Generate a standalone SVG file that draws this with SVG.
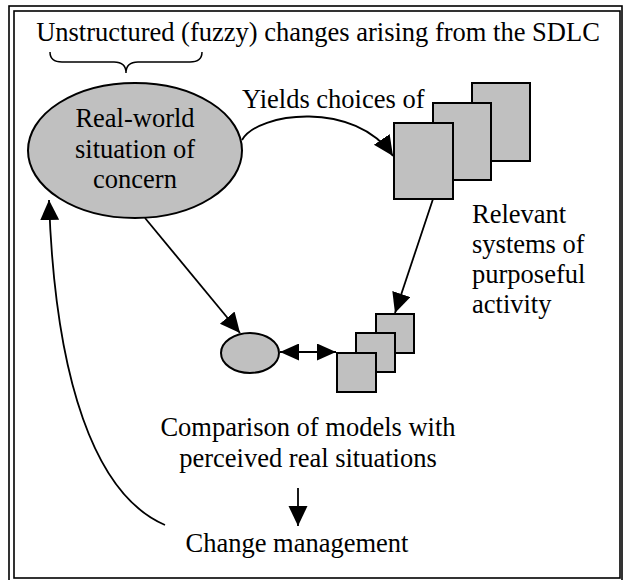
<svg xmlns="http://www.w3.org/2000/svg" width="624" height="580" viewBox="0 0 624 580">
<style>
text{font-family:"Liberation Serif","Times New Roman",serif;font-size:26.5px;fill:#000}
.c{text-anchor:middle}
.sh{fill:#c0c0c0;stroke:#000;stroke-width:2}
.ln{fill:none;stroke:#000;stroke-width:1.8}
.fr{fill:none;stroke:#000;stroke-width:1.6}
</style>
<defs>
<marker id="ah" markerUnits="userSpaceOnUse" markerWidth="22" markerHeight="20" refX="20" refY="9.5" orient="auto"><path d="M0,0 L20,9.5 L0,19 z" fill="#000"/></marker>
<marker id="as" markerUnits="userSpaceOnUse" markerWidth="20" markerHeight="18" refX="19" refY="8.5" orient="auto"><path d="M0,0 L19,8.5 L0,17 z" fill="#000"/></marker>
<marker id="asr" markerUnits="userSpaceOnUse" markerWidth="20" markerHeight="18" refX="0" refY="8.5" orient="auto"><path d="M19,0 L0,8.5 L19,17 z" fill="#000"/></marker>
</defs>
<rect width="624" height="580" fill="#fff"/>
<g id="frame">
<rect class="fr" x="9" y="6" width="613" height="580"/>
<rect class="fr" x="14" y="11" width="606" height="567"/>
</g>
<g id="title">
<text x="318" y="41" class="c">Unstructured (fuzzy) changes arising from the SDLC</text>
<path class="ln" style="stroke-width:1.5" d="M50,52 Q50,62 62,62 L114,62 Q126,62 126,73 Q126,62 138,62 L190,62 Q202,62 202,52"/>
</g>
<g id="connectors">
<path class="ln" d="M242,140 C258,112 355,100 393,156" marker-end="url(#ah)"/>
<path class="ln" d="M145,218 L240,333" marker-end="url(#ah)"/>
<path class="ln" d="M433,199 L395,313" marker-end="url(#ah)"/>
<path class="ln" d="M280,352 L336,352" marker-start="url(#asr)" marker-end="url(#as)"/>
<path class="ln" d="M298,488 L298,526" marker-end="url(#ah)"/>
<path class="ln" d="M165,525 C95,495 55,380 49,200" marker-end="url(#ah)"/>
</g>
<g id="real-world">
<ellipse class="sh" cx="135" cy="150.5" rx="107" ry="67.5"/>
<text x="135" y="127" class="c">Real-world</text>
<text x="135" y="158" class="c">situation of</text>
<text x="135" y="188" class="c">concern</text>
</g>
<g id="yields-label">
<text x="242" y="108">Yields choices of</text>
</g>
<g id="relevant-systems">
<rect class="sh" x="472" y="83" width="58" height="78"/>
<rect class="sh" x="433" y="103" width="58" height="77"/>
<rect class="sh" x="394" y="123" width="59" height="76"/>
<text x="472" y="223">Relevant</text>
<text x="472" y="253">systems of</text>
<text x="472" y="283">purposeful</text>
<text x="472" y="313">activity</text>
</g>
<g id="model-ellipse">
<ellipse class="sh" cx="250" cy="353" rx="29" ry="20"/>
</g>
<g id="models">
<rect class="sh" x="376" y="314" width="38" height="39"/>
<rect class="sh" x="356" y="333" width="39" height="39"/>
<rect class="sh" x="337" y="353" width="39" height="39"/>
</g>
<g id="comparison">
<text x="308" y="436" class="c">Comparison of models with</text>
<text x="308" y="467" class="c">perceived real situations</text>
</g>
<g id="change-management">
<text x="297" y="552" class="c">Change management</text>
</g>
</svg>
